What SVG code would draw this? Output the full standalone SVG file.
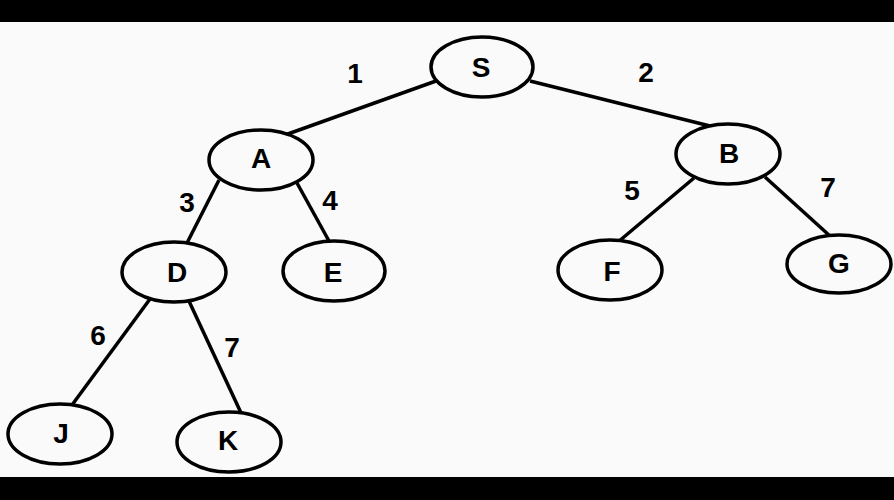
<svg xmlns="http://www.w3.org/2000/svg" width="894" height="500" viewBox="0 0 894 500">
<style>
.bg{fill:#fafafa}
.bar{fill:#000}
.node ellipse{fill:#fafafa;stroke:#000;stroke-width:3.5}
.node text{font-family:"Liberation Sans",Arial,sans-serif;font-weight:bold;font-size:28px;text-anchor:middle;fill:#000}
.edges line{stroke:#000;stroke-width:3.5;stroke-linecap:butt}
.lbl{font-family:"Liberation Sans",Arial,sans-serif;font-weight:bold;font-size:28px;text-anchor:middle;fill:#000}
</style>
<rect class="bg" x="0" y="0" width="894" height="500"/>
<rect class="bar" x="0" y="0" width="894" height="22"/>
<rect class="bar" x="0" y="477" width="894" height="23"/>
<g id="edges" class="edges">
<line x1="436" y1="81" x2="285" y2="135"/>
<line x1="530" y1="81" x2="710" y2="126"/>
<line x1="219" y1="180" x2="187" y2="243"/>
<line x1="297" y1="183" x2="329" y2="241"/>
<line x1="694" y1="178" x2="618" y2="242"/>
<line x1="765" y1="177" x2="830" y2="236"/>
<line x1="150" y1="299" x2="72" y2="405"/>
<line x1="188" y1="299" x2="242" y2="415"/>
</g>
<g id="edge-labels">
<text class="lbl" x="355" y="83">1</text>
<text class="lbl" x="646" y="82">2</text>
<text class="lbl" x="187" y="212">3</text>
<text class="lbl" x="330" y="210">4</text>
<text class="lbl" x="632" y="200">5</text>
<text class="lbl" x="828" y="197">7</text>
<text class="lbl" x="98" y="345">6</text>
<text class="lbl" x="232" y="357">7</text>
</g>
<g id="node-S" class="node"><ellipse cx="482" cy="67" rx="51" ry="30"/><text x="481" y="77">S</text></g>
<g id="node-A" class="node"><ellipse cx="261" cy="160" rx="52" ry="30"/><text x="261" y="168">A</text></g>
<g id="node-B" class="node"><ellipse cx="728" cy="154" rx="52" ry="30"/><text x="729" y="163">B</text></g>
<g id="node-D" class="node"><ellipse cx="174" cy="272" rx="52" ry="30"/><text x="177" y="282">D</text></g>
<g id="node-E" class="node"><ellipse cx="334" cy="271" rx="51" ry="30"/><text x="333" y="282">E</text></g>
<g id="node-F" class="node"><ellipse cx="610" cy="270" rx="52" ry="30"/><text x="612" y="281">F</text></g>
<g id="node-G" class="node"><ellipse cx="839" cy="264" rx="52" ry="29"/><text x="839" y="273">G</text></g>
<g id="node-J" class="node"><ellipse cx="60" cy="434" rx="52" ry="30"/><text x="61" y="443">J</text></g>
<g id="node-K" class="node"><ellipse cx="229" cy="442" rx="52" ry="30"/><text x="228" y="450">K</text></g>
</svg>
